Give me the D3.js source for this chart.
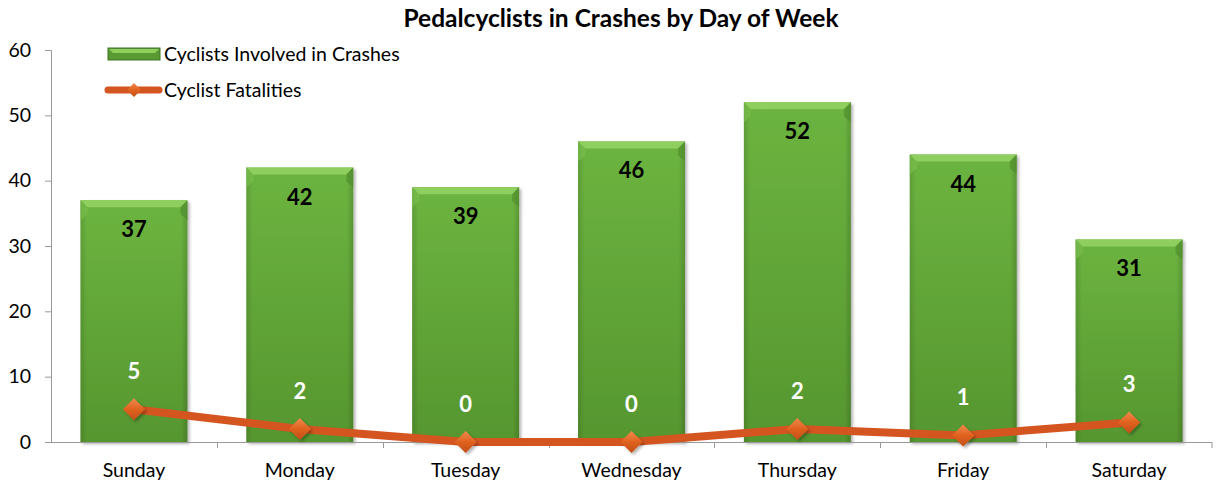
<!DOCTYPE html>
<meta charset="utf-8">
<script src="https://d3js.org/d3.v7.min.js"></script>
<style>
  body { margin: 0; background: #fff; }
  svg text { font-family: Lato, "Open Sans", sans-serif; }
</style>
<div id="chart"></div>
<script>
// data
var days = ["Sunday", "Monday", "Tuesday", "Wednesday", "Thursday", "Friday", "Saturday"];
var crashes = [37, 42, 39, 46, 52, 44, 31];
var fatalities = [5, 2, 0, 0, 2, 1, 3];
var yTicks = [0, 10, 20, 30, 40, 50, 60];

var W = 1216, H = 483;
var margin = {top: 50, right: 4, bottom: 41, left: 51};
var width = W - margin.left - margin.right,
    height = H - margin.top - margin.bottom;

var svg = d3.select("#chart").append("svg")
    .attr("width", W).attr("height", H);

var defs = svg.append("defs");
// bar body gradient
var g1 = defs.append("linearGradient").attr("id", "barFill")
    .attr("x1", 0).attr("y1", 0).attr("x2", 0).attr("y2", 1);
g1.append("stop").attr("offset", "0%").attr("stop-color", "#6cb440");
g1.append("stop").attr("offset", "100%").attr("stop-color", "#56962f");
var gs = defs.append("linearGradient").attr("id", "barSide")
    .attr("x1", 0).attr("y1", 0).attr("x2", 1).attr("y2", 0);
gs.append("stop").attr("offset", "0%").attr("stop-color", "#000").attr("stop-opacity", 0.12);
gs.append("stop").attr("offset", "6%").attr("stop-color", "#000").attr("stop-opacity", 0);
gs.append("stop").attr("offset", "94%").attr("stop-color", "#000").attr("stop-opacity", 0);
gs.append("stop").attr("offset", "100%").attr("stop-color", "#000").attr("stop-opacity", 0.15);
var gd = defs.append("linearGradient").attr("id", "diamond")
    .attr("x1", 0).attr("y1", 0).attr("x2", 0).attr("y2", 1);
gd.append("stop").attr("offset", "0%").attr("stop-color", "#f08a4e");
gd.append("stop").attr("offset", "50%").attr("stop-color", "#e0621f");
gd.append("stop").attr("offset", "100%").attr("stop-color", "#c24f17");
var sh = defs.append("filter").attr("id", "shadow").attr("x", "-10%").attr("y", "-10%")
    .attr("width", "130%").attr("height", "130%");
sh.append("feDropShadow").attr("dx", 2).attr("dy", 2).attr("stdDeviation", 1.5)
    .attr("flood-color", "#000").attr("flood-opacity", 0.3);

var g = svg.append("g").attr("transform", "translate(" + margin.left + "," + margin.top + ")");

var x = d3.scaleBand().domain(days).range([0, width]).paddingInner(0.355).paddingOuter(0.1775);
var xb = d3.scaleBand().domain(days).range([0, width]);
var y = d3.scaleLinear().domain([0, 60]).range([height, 0]);

// title
svg.append("text")
  .attr("x", 621).attr("y", 27)
  .attr("text-anchor", "middle")
  .style("font-size", "24.5px").style("font-weight", "bold")
  .text("Pedalcyclists in Crashes by Day of Week");

// y axis
var yAxis = g.append("g")
  .call(d3.axisLeft(y).tickValues(yTicks).tickSize(6).tickPadding(14));
yAxis.select(".domain").attr("stroke", "#999").attr("d", "M-6,0.5H0.5V" + (height + 0.5));
yAxis.selectAll(".tick line").attr("stroke", "#999");
yAxis.selectAll(".tick text").style("font-size", "19.5px").attr("fill", "#000")
  .style("font-family", "Lato, sans-serif");

// bars
var bars = g.selectAll(".bar").data(days).enter().append("g").attr("class", "bar")
  .attr("filter", "url(#shadow)");
bars.append("rect")
  .attr("x", function(d) { return x(d); })
  .attr("y", function(d, i) { return y(crashes[i]); })
  .attr("width", x.bandwidth())
  .attr("height", function(d, i) { return height - y(crashes[i]); })
  .attr("fill", "url(#barFill)");
bars.append("rect")
  .attr("x", function(d) { return x(d); })
  .attr("y", function(d, i) { return y(crashes[i]); })
  .attr("width", x.bandwidth())
  .attr("height", function(d, i) { return height - y(crashes[i]); })
  .attr("fill", "url(#barSide)");
// top bevel
var bev = 7;
bars.append("path")
  .attr("d", function(d, i) {
    var x0 = x(d), x1 = x0 + x.bandwidth(), t = y(crashes[i]);
    return "M" + x0 + "," + t + "H" + x1 + "L" + (x1 - bev) + "," + (t + bev) + "H" + (x0 + bev) + "Z";
  })
  .attr("fill", "#8fcf5e");
bars.append("path")
  .attr("d", function(d, i) {
    var x0 = x(d), t = y(crashes[i]);
    return "M" + x0 + "," + t + "L" + (x0 + bev) + "," + (t + bev) + "V" + (t + 14) + "L" + x0 + "," + (t + 20) + "Z";
  })
  .attr("fill", "#7cbf4e").attr("opacity", 0.6);
bars.append("path")
  .attr("d", function(d, i) {
    var x1 = x(d) + x.bandwidth(), t = y(crashes[i]);
    return "M" + x1 + "," + t + "L" + (x1 - bev) + "," + (t + bev) + "V" + (t + 14) + "L" + x1 + "," + (t + 20) + "Z";
  })
  .attr("fill", "#4f8a2b").attr("opacity", 0.6);

// x axis
var xAxisG = g.append("g").attr("transform", "translate(0," + height + ")");
xAxisG.append("path").attr("d", "M0,0.5H" + width + "V6").attr("stroke", "#999").attr("fill", "none");
xAxisG.selectAll(".tk").data(days.slice(1)).enter().append("line")
  .attr("x1", function(d) { return Math.round(xb(d)) + 0.5; })
  .attr("x2", function(d) { return Math.round(xb(d)) + 0.5; })
  .attr("y1", 0).attr("y2", 6).attr("stroke", "#999");
xAxisG.selectAll(".lbl").data(days).enter().append("text")
  .attr("x", function(d) { return xb(d) + xb.bandwidth() / 2; })
  .attr("y", 35)
  .attr("text-anchor", "middle")
  .style("font-size", "19.5px")
  .text(function(d) { return d; });

// crash labels
g.selectAll(".clbl").data(days).enter().append("text")
  .attr("x", function(d) { return x(d) + x.bandwidth() / 2; })
  .attr("y", function(d, i) { return y(crashes[i]) + 37; })
  .attr("text-anchor", "middle")
  .style("font-size", "22px").style("font-weight", "bold")
  .text(function(d, i) { return crashes[i]; });

// fatalities line
var cx = function(d) { return x(d) + x.bandwidth() / 2; };
var line = d3.line()
  .x(function(d, i) { return cx(days[i]); })
  .y(function(d) { return y(d); });
g.append("path").datum(fatalities)
  .attr("d", line)
  .attr("fill", "none").attr("stroke", "#d45520").attr("stroke-width", 8)
  .attr("stroke-linejoin", "round").attr("stroke-linecap", "round");

var dm = 11;
g.selectAll(".mk").data(fatalities).enter().append("path")
  .attr("d", function(d, i) {
    var px = cx(days[i]), py = y(d);
    return "M" + px + "," + (py - dm) + "L" + (px + dm) + "," + py + "L" + px + "," + (py + dm) + "L" + (px - dm) + "," + py + "Z";
  })
  .attr("fill", "url(#diamond)").attr("filter", "url(#shadow)");

g.selectAll(".flbl").data(fatalities).enter().append("text")
  .attr("x", function(d, i) { return cx(days[i]); })
  .attr("y", function(d) { return y(d) - 30; })
  .attr("text-anchor", "middle")
  .attr("fill", "#fff")
  .style("font-size", "22px").style("font-weight", "bold")
  .text(function(d) { return d; });

// legend
var lg = svg.append("g");
lg.append("rect").attr("x", 108).attr("y", 48).attr("width", 52).attr("height", 12)
  .attr("fill", "#5a9a33").attr("stroke", "#3f7322").attr("stroke-width", 1);
lg.append("path").attr("d", "M109,49H159L155,53H113Z").attr("fill", "#8fcf5e");
lg.append("text").attr("x", 164).attr("y", 61).style("font-size", "19.5px")
  .text("Cyclists Involved in Crashes");
lg.append("line").attr("x1", 108).attr("x2", 159).attr("y1", 90).attr("y2", 90)
  .attr("stroke", "#d45520").attr("stroke-width", 7).attr("stroke-linecap", "round");
lg.append("path").attr("d", "M134,83L141,90L134,97L127,90Z").attr("fill", "url(#diamond)");
lg.append("text").attr("x", 164).attr("y", 97).style("font-size", "19.5px")
  .text("Cyclist Fatalities");
</script>
